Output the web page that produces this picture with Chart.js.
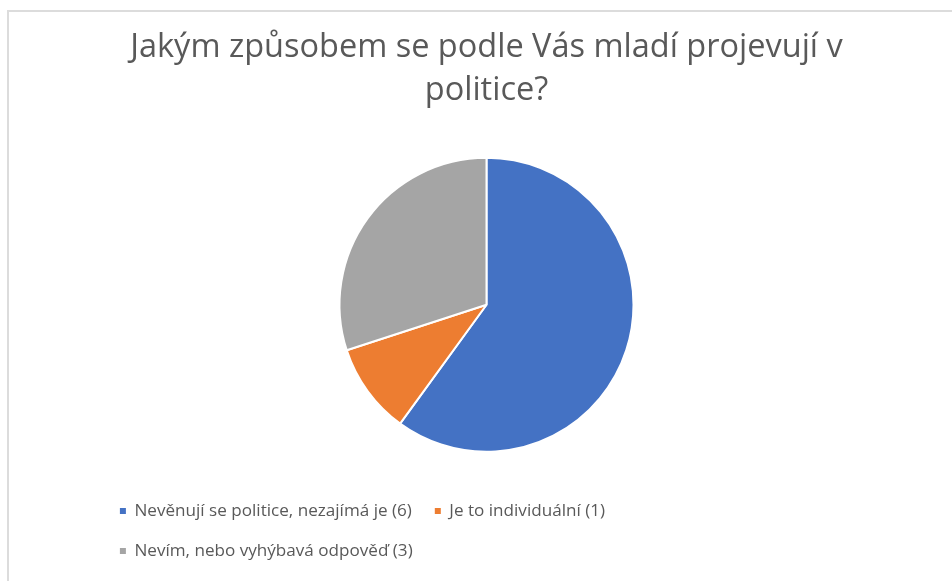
<!DOCTYPE html>
<html>
<head>
<meta charset="utf-8">
<script src="https://cdn.jsdelivr.net/npm/chart.js@4.4.1/dist/chart.umd.min.js"></script>
<style>
  html, body { margin: 0; padding: 0; background: #ffffff; overflow: hidden; }
  #frame { position: absolute; left: 7px; top: 10px; width: 1000px; height: 1000px;
           border-top: 2px solid #dcdcdc; border-left: 2px solid #dcdcdc; box-sizing: border-box; }
  #wrap { position: absolute; left: 0; top: 0; width: 952px; height: 581px; }
</style>
</head>
<body>
<div id="frame"></div>
<div id="wrap"><canvas id="c"></canvas></div>
<script>
const titleLines = ['Jakým způsobem se podle Vás mladí projevují v', 'politice?'];
const categories = ['Nevěnují se politice, nezajímá je (6)', 'Je to individuální (1)', 'Nevím, nebo vyhýbavá odpověď (3)'];
const values = [6, 1, 3];
const colors = ['#4472C4', '#ED7D31', '#A5A5A5'];

const legendFont = 17.1;
const legendPad = 22.9;

new Chart(document.getElementById('c'), {
  type: 'pie',
  data: {
    labels: categories,
    datasets: [{
      data: values,
      backgroundColor: colors,
      borderColor: '#ffffff',
      borderWidth: 2,
      radius: 147
    }]
  },
  options: {
    responsive: true,
    maintainAspectRatio: false,
    animation: false,
    layout: { padding: { top: 0, left: 97, right: 76, bottom: 11.45 } },
    plugins: {
      title: {
        display: true,
        text: titleLines,
        color: '#595959',
        font: { family: 'Open Sans', size: 32.5, weight: 'normal', lineHeight: '43px' },
        padding: { top: 26.5, bottom: 17.45 }
      },
      legend: {
        position: 'bottom',
        align: 'start',
        labels: {
          color: '#595959',
          font: { family: 'Open Sans', size: legendFont },
          boxWidth: 6,
          boxHeight: 6,
          padding: legendPad,
          generateLabels: (chart) => {
            const items = Chart.overrides.pie.plugins.legend.labels.generateLabels(chart);
            return items.map(it => Object.assign(it, { lineWidth: 0 }));
          }
        }
      },
      tooltip: { enabled: false }
    }
  }
});
</script>
</body>
</html>
